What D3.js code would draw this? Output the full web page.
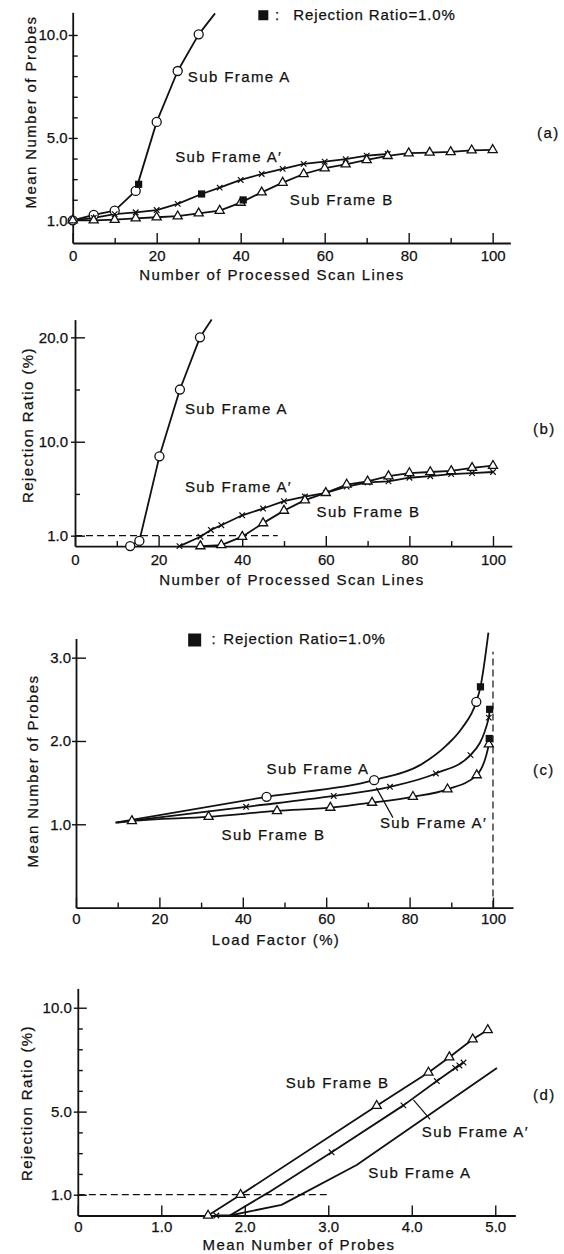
<!DOCTYPE html>
<html>
<head>
<meta charset="utf-8">
<script src="https://cdnjs.cloudflare.com/ajax/libs/d3/7.8.5/d3.min.js"></script>
<style>
  body { margin: 0; background: #fff; }
  svg { display: block; }
  text { font-family: "Liberation Sans", Arial, sans-serif; font-size: 15px; fill: #111; stroke: #111; stroke-width: 0.25px; }
  .lbl { letter-spacing: 1.4px; }
</style>
</head>
<body>
<svg id="fig" width="564" height="1254"></svg>
<script>
// ---- data: [x, y, marker?] ----
// (a) mean number of probes vs processed scan lines
var aSubA  = [[0,1.0,1],[5,1.26,1],[10,1.47,1],[15,2.43,1],[20,5.78,1],[25,8.25,1],[30,10.03,1],[33.9,11.05,0]];
var aSubA2 = [[0,1.0,1],[5,1.12,1],[10,1.3,1],[15,1.39,1],[20,1.5,1],[25,1.8,1],[30.7,2.28,0],[35,2.59,1],[40,2.96,1],
              [45,3.25,1],[50,3.5,1],[55,3.74,1],[60,3.85,1],[65,3.97,1],[70,4.14,1],[75,4.22,1]];
var aSubB  = [[0,1.0,1],[5,1.0,1],[10,1.03,1],[15,1.1,1],[20,1.15,1],[25,1.2,1],[30,1.34,1],[35,1.47,1],[40,1.86,1],
              [45,2.36,1],[50,2.83,1],[55,3.25,1],[60,3.53,1],[65,3.72,1],[70,3.93,1],[75,4.13,1],[80,4.26,1],
              [85,4.29,1],[90,4.32,1],[95,4.4,1],[100,4.42,1]];
var aReject = [[15.7,2.75],[30.7,2.28],[40.6,1.99]];

// (b) rejection ratio vs processed scan lines
var bSubA  = [[13.2,0,1],[15.4,0.5,1],[20.2,8.6,1],[25.1,15.0,1],[29.9,20.0,1],[32.7,21.7,0]];
var bSubA2 = [[25,0,1],[30,0.9,1],[32.5,1.55,1],[35,2.0,1],[40,2.95,1],[45,3.6,1],[50,4.3,1],[55,4.75,1],[60,5.1,1],
              [65,5.7,1],[70,6.1,1],[75,6.2,1],[80,6.55,1],[85,6.7,1],[90,6.9,1],[95,7.0,1],[100,7.1,1]];
var bSubB  = [[30,0,1],[35,0.1,1],[40,0.9,1],[45,2.2,1],[50,3.4,1],[55,4.4,1],[60,5.1,1],[65,5.9,1],[70,6.2,1],
              [75,6.7,1],[80,7.0,1],[85,7.1,1],[90,7.2,1],[95,7.5,1],[100,7.7,1]];

// (c) mean number of probes vs load factor
var cSubA  = [[9.5,1.02,0],[45.7,1.33,1],[71.5,1.53,1],[82.5,1.71,0],[88.9,1.95,0],[92.5,2.15,0],[96,2.47,1],[97,2.65,0],[98.9,3.3,0]];
var cSubA2 = [[9.5,1.02,0],[40.8,1.21,1],[61.8,1.34,1],[75.3,1.45,1],[86.3,1.61,1],[94.6,1.83,1],[99,2.28,1],[99.2,2.38,0]];
var cSubB  = [[10,1.02,0],[13.4,1.04,1],[31.8,1.09,1],[48.2,1.16,1],[61,1.2,1],[71,1.26,1],[80.8,1.33,1],[89.1,1.42,1],
              [96.1,1.59,1],[99,1.96,1],[99.1,2.03,0]];
var cReject = [[97,2.65],[99.2,2.38],[99.1,2.03]];

// (d) rejection ratio vs mean number of probes
var dSubB  = [[1.56,0,1],[1.95,1.0,1],[3.58,5.28,1],[4.2,6.88,1],[4.45,7.62,1],[4.73,8.48,1],[4.91,8.93,1]];
var dSubA2 = [[1.66,0,1],[1.82,0,0],[2.28,1.1,0],[3.04,3.04,1],[3.9,5.3,1],[4.3,6.47,1],[4.52,7.1,1],[4.57,7.22,1],[4.62,7.36,1]];
var dSubA  = [[1.82,0,0],[2.44,0.51,0],[3.34,2.43,0],[5.02,7.1,0]];

// tick values / labels
var scanMajor = [0,20,40,60,80,100], scanMinor = [10,30,50,70,90];
var aYMajor = [1,5,10], aYMinor = [2,3,4,6,7,8,9];
var bYMajor = [1,10,20], bYMinor = [5,15];
var cYMajor = [1,2,3];
var dXMajor = [0,1,2,3,4,5], dYMajor = [1,5,10], dYMinor = [2,3,4,6,7,8,9];

var svg = d3.select("#fig");
var f1 = d3.format(".1f");

function drawPanel(p) {
  var g = svg.append("g");
  var x = d3.scaleLinear().domain(p.xDom).range(p.xRange);
  var y = d3.scaleLinear().domain(p.yDom).range(p.yRange);
  var y0 = p.yRange[0];

  // x axis
  if (p.xMinor) {
    g.append("g").attr("transform", "translate(0," + y0 + ")")
      .call(d3.axisBottom(x).tickValues(p.xMinor).tickSize(-5).tickSizeOuter(0).tickFormat(""))
      .call(function(s) { s.select(".domain").remove(); });
  }
  g.append("g").attr("class", "ax").attr("transform", "translate(0," + y0 + ")")
    .call(d3.axisBottom(x).tickValues(p.xMajor).tickSize(-10).tickSizeOuter(0).tickPadding(p.xPad).tickFormat(p.xFmt));

  // y axis
  if (p.yMinor) {
    g.append("g").attr("transform", "translate(" + p.xRange[0] + ",0)")
      .call(d3.axisLeft(y).tickValues(p.yMinor).tickSize(-5).tickSizeOuter(0).tickFormat(""))
      .call(function(s) { s.select(".domain").remove(); });
  }
  g.append("g").attr("class", "ax").attr("transform", "translate(" + p.xRange[0] + ",0)")
    .call(d3.axisLeft(y).tickValues(p.yMajor).tickSize(-p.yTick).tickSizeOuter(0).tickPadding(p.yPad).tickFormat(f1))
    .call(function(s) { s.selectAll(".tick line").attr("x1", -4); });

  g.selectAll(".domain").attr("stroke", "#111").attr("stroke-width", 1.8);
  g.selectAll(".tick line").attr("stroke", "#111").attr("stroke-width", 1.4);
  g.selectAll(".tick text").attr("font-size", null).attr("font-family", null);
  g.selectAll("g").attr("font-size", null).attr("font-family", null);

  // dashed guide lines
  (p.dash || []).forEach(function(d) {
    g.append("line")
      .attr("x1", x(d[0])).attr("y1", y(d[1])).attr("x2", x(d[2])).attr("y2", y(d[3]))
      .attr("stroke", "#111").attr("stroke-width", 1.2).attr("stroke-dasharray", "7,4");
  });

  // series
  p.series.forEach(function(s) {
    var line = d3.line().x(function(d) { return x(d[0]); }).y(function(d) { return y(d[1]); })
      .curve(p.curve || d3.curveLinear);
    g.append("path").datum(s.data).attr("d", line)
      .attr("fill", "none").attr("stroke", "#111").attr("stroke-width", 1.8).attr("stroke-linejoin", "round");
  });
  p.series.forEach(function(s) {
    var pts = s.data.filter(function(d) { return d[2]; });
    var m = g.append("g").selectAll("path").data(pts).join("path")
      .attr("transform", function(d) { return "translate(" + x(d[0]) + "," + y(d[1]) + ")"; });
    if (s.mark === "circle") {
      m.attr("d", d3.symbol(d3.symbolCircle, 64)).attr("fill", "#fff").attr("stroke", "#111").attr("stroke-width", 1.3);
    } else if (s.mark === "tri") {
      m.attr("d", d3.symbol(d3.symbolTriangle, 36)).attr("fill", "#fff").attr("stroke", "#111").attr("stroke-width", 1.3);
    } else if (s.mark === "times") {
      m.attr("d", d3.symbol(d3.symbolTimes, 22)).attr("fill", "none").attr("stroke", "#111").attr("stroke-width", 1.2);
    }
  });
  if (p.reject) {
    g.append("g").selectAll("path").data(p.reject).join("path")
      .attr("transform", function(d) { return "translate(" + x(d[0]) + "," + y(d[1]) + ")"; })
      .attr("d", d3.symbol(d3.symbolSquare, 52)).attr("fill", "#111");
  }

  // leader lines
  (p.leaders || []).forEach(function(d) {
    g.append("line")
      .attr("x1", x(d[0])).attr("y1", y(d[1])).attr("x2", x(d[2])).attr("y2", y(d[3]))
      .attr("stroke", "#111").attr("stroke-width", 1.2);
  });

  // curve labels
  p.labels.forEach(function(d) {
    g.append("text").attr("class", "lbl").attr("x", x(d[1])).attr("y", y(d[2])).text(d[0]);
  });

  // rejection legend
  if (p.legend) {
    var L = p.legend;
    g.append("rect").attr("x", x(L.sq[0])).attr("y", y(L.sq[1])).attr("width", L.size).attr("height", L.size).attr("fill", "#111");
    g.append("text").attr("x", x(L.colon)).attr("y", y(L.base)).text(":");
    g.append("text").attr("x", x(L.text)).attr("y", y(L.base)).attr("letter-spacing", "0.9px").text("Rejection Ratio=1.0%");
  }

  // axis titles and panel tag
  g.append("text").attr("class", "lbl").attr("text-anchor", "middle")
    .attr("x", p.xTitle[1]).attr("y", p.xTitle[2]).text(p.xTitle[0]);
  g.append("text").attr("class", "lbl").attr("text-anchor", "middle")
    .attr("transform", "translate(" + p.yTitle[1] + "," + p.yTitle[2] + ") rotate(-90)").text(p.yTitle[0]);
  g.append("text").attr("class", "lbl").attr("x", p.tag[1]).attr("y", p.tag[2]).text(p.tag[0]);
}

// (a)
drawPanel({
  xDom: [0, 104.2], xRange: [72.7, 510.3], yDom: [-0.1, 11.1], yRange: [243, 12.3],
  xMajor: scanMajor, xMinor: scanMinor, xFmt: d3.format("d"), xPad: 7,
  yMajor: aYMajor, yMinor: aYMinor, yTick: 5, yPad: 5,
  series: [{data: aSubA, mark: "circle"}, {data: aSubA2, mark: "times"}, {data: aSubB, mark: "tri"}],
  reject: aReject,
  labels: [["Sub Frame A", 27.4, 7.72], ["Sub Frame A\u2032", 24.4, 3.83], ["Sub Frame B", 51.7, 1.75]],
  legend: {sq: [44.2, 11.2], size: 10, colon: 48.2, text: 52.5, base: 10.73},
  xTitle: ["Number of Processed Scan Lines", 272, 280], yTitle: ["Mean Number of Probes", 36, 112], tag: ["(a)", 537, 138]
});

// (b)
drawPanel({
  xDom: [0, 104.5], xRange: [75, 511.8], yDom: [0, 21.7], yRange: [546.1, 319.6],
  xMajor: scanMajor, xMinor: scanMinor, xFmt: d3.format("d"), xPad: 8,
  yMajor: bYMajor, yMinor: bYMinor, yTick: 10, yPad: 7,
  series: [{data: bSubA, mark: "circle"}, {data: bSubA2, mark: "times"}, {data: bSubB, mark: "tri"}],
  dash: [[0, 1, 48.5, 1]],
  labels: [["Sub Frame A", 26.3, 12.65], ["Sub Frame A\u2032", 26.3, 5.18], ["Sub Frame B", 57.8, 2.82]],
  xTitle: ["Number of Processed Scan Lines", 292, 585], yTitle: ["Rejection Ratio (%)", 33, 425], tag: ["(b)", 533, 434]
});

// (c)
drawPanel({
  xDom: [0, 104.8], xRange: [76, 513], yDom: [0, 3.23], yRange: [907.6, 638.5],
  xMajor: scanMajor, xMinor: scanMinor, xFmt: d3.format("d"), xPad: 6,
  yMajor: cYMajor, yTick: 10, yPad: 5,
  curve: d3.curveMonotoneX,
  series: [{data: cSubA, mark: "circle"}, {data: cSubA2, mark: "times"}, {data: cSubB, mark: "tri"}],
  reject: cReject,
  dash: [[100, 0, 100, 3.07]],
  leaders: [[76, 1.08, 72, 1.44]],
  labels: [["Sub Frame A", 45.7, 1.6], ["Sub Frame A\u2032", 72.9, 0.956], ["Sub Frame B", 34.9, 0.81]],
  legend: {sq: [26.9, 3.29], size: 13, colon: 32.5, text: 35.3, base: 3.16},
  xTitle: ["Load Factor (%)", 276, 945], yTitle: ["Mean Number of Probes", 38, 771], tag: ["(c)", 533, 775]
});

// (d)
drawPanel({
  xDom: [0, 5.24], xRange: [77.8, 515.3], yDom: [0, 10.93], yRange: [1215.5, 988.4],
  xMajor: dXMajor, xFmt: function(d) { return d === 0 ? "0" : f1(d); }, xPad: 6,
  yMajor: dYMajor, yMinor: dYMinor, yTick: 9, yPad: 6,
  series: [{data: dSubA, mark: "none"}, {data: dSubA2, mark: "times"}, {data: dSubB, mark: "tri"}],
  dash: [[0, 1, 3.0, 1]],
  leaders: [[4.22, 4.63, 4.02, 5.56]],
  labels: [["Sub Frame B", 2.49, 6.14], ["Sub Frame A\u2032", 4.12, 3.79], ["Sub Frame A", 3.48, 1.8]],
  xTitle: ["Mean Number of Probes", 299, 1250], yTitle: ["Rejection Ratio (%)", 32, 1103], tag: ["(d)", 533, 1100]
});
</script>
</body>
</html>
